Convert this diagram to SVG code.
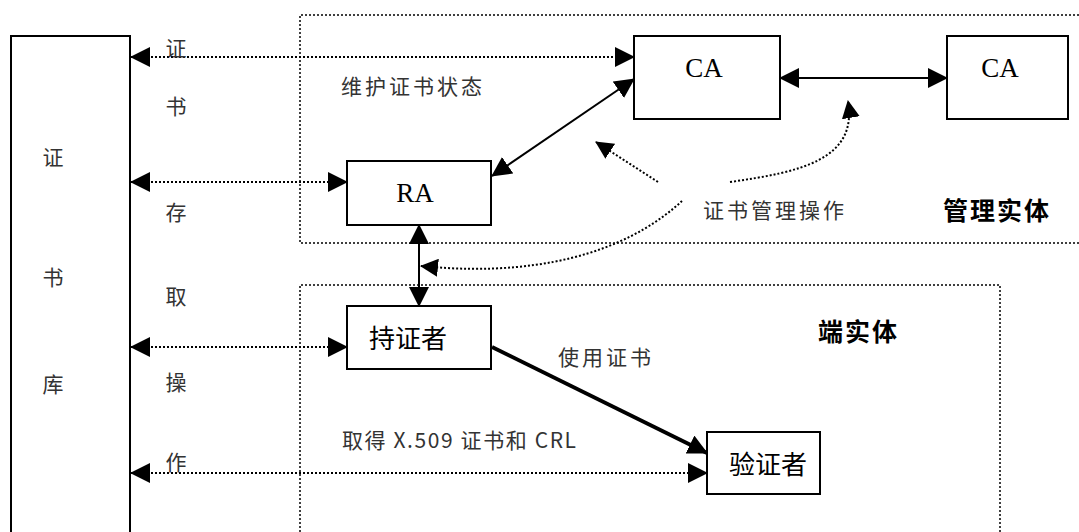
<svg xmlns="http://www.w3.org/2000/svg" width="1079" height="532" viewBox="0 0 1079 532">
<defs>
<marker id="ah" markerUnits="userSpaceOnUse" markerWidth="20" markerHeight="20" refX="19" refY="10" orient="auto-start-reverse" viewBox="0 0 20 20"><path d="M0,0 L20,10 L0,20 z" fill="#000"/></marker>
<marker id="ahs" markerUnits="userSpaceOnUse" markerWidth="18" markerHeight="18" refX="17" refY="9" orient="auto-start-reverse" viewBox="0 0 18 18"><path d="M0,0 L18,9 L0,18 z" fill="#000"/></marker>
<style>
.box{fill:#fff;stroke:#000;stroke-width:2}
.zone{fill:none;stroke:#000;stroke-width:1.5;stroke-dasharray:2 2}
.dot{fill:none;stroke:#000;stroke-width:2;stroke-dasharray:2 2}
.sol{fill:none;stroke:#000;stroke-width:2}
.thick{fill:none;stroke:#000;stroke-width:4}
.cjk{font-family:"Noto Sans CJK SC","Noto Sans",sans-serif;font-size:21px;fill:#333}
.lbl{font-family:"Noto Sans CJK SC",sans-serif;font-size:26px;fill:#000}
.ser{font-family:"Liberation Serif",serif;font-size:27px;fill:#000}
.bold{font-family:"Noto Sans CJK SC",sans-serif;font-size:25px;font-weight:bold;fill:#000}
</style>
</defs>
<rect width="1079" height="532" fill="#fff"/>
<g id="zones">
<path class="zone" d="M1079,15 H300 V243 H1079"/>
<path class="zone" d="M300,532 V285 H1000 V532"/>
</g>
<g id="repo"><rect class="box" x="11" y="36" width="119" height="510"/>
<text class="cjk" x="53" y="165" text-anchor="middle">证</text>
<text class="cjk" x="53" y="285" text-anchor="middle">书</text>
<text class="cjk" x="53" y="392" text-anchor="middle">库</text></g>
<g id="ca1"><rect class="box" x="634" y="36" width="146" height="83"/><text class="ser" x="704" y="77" text-anchor="middle">CA</text></g>
<g id="ca2"><rect class="box" x="947" y="36" width="121" height="83"/><text class="ser" x="1000" y="77" text-anchor="middle">CA</text></g>
<g id="ra"><rect class="box" x="347" y="161" width="144" height="64"/><text class="ser" x="415" y="202" text-anchor="middle">RA</text></g>
<g id="holder"><rect class="box" x="347" y="306" width="144" height="63"/><text class="lbl" x="408" y="348" text-anchor="middle">持证者</text></g>
<g id="verifier"><rect class="box" x="707" y="432" width="113" height="62"/><text class="lbl" x="768" y="474" text-anchor="middle">验证者</text></g>
<g id="connectors">
<line class="dot" x1="131" y1="57" x2="634" y2="57" marker-start="url(#ah)" marker-end="url(#ah)"/>
<line class="dot" x1="131" y1="182" x2="347" y2="182" marker-start="url(#ah)" marker-end="url(#ah)"/>
<line class="dot" x1="131" y1="347" x2="347" y2="347" marker-start="url(#ah)" marker-end="url(#ah)"/>
<line class="dot" x1="131" y1="473" x2="707" y2="473" marker-start="url(#ah)" marker-end="url(#ah)"/>
<line class="sol" x1="780" y1="78" x2="947" y2="78" marker-start="url(#ah)" marker-end="url(#ah)"/>
<line class="sol" x1="634" y1="79" x2="492" y2="176" marker-start="url(#ah)" marker-end="url(#ah)"/>
<line class="sol" x1="419" y1="225" x2="419" y2="306" marker-start="url(#ah)" marker-end="url(#ah)"/>
<line class="thick" x1="492" y1="347" x2="707" y2="453" marker-end="url(#ah)"/>
<path class="dot" d="M658,182 L596,142" marker-end="url(#ahs)"/>
<path class="dot" d="M730,182 C800,172 858,160 848,101" marker-end="url(#ahs)"/>
<path class="dot" d="M682,201 C640,240 560,280 421,266" marker-end="url(#ahs)"/>
</g>
<g id="labels">
<text class="cjk" x="176" y="56" text-anchor="middle">证</text>
<text class="cjk" x="176" y="114" text-anchor="middle">书</text>
<text class="cjk" x="176" y="220" text-anchor="middle">存</text>
<text class="cjk" x="176" y="304" text-anchor="middle">取</text>
<text class="cjk" x="176" y="390" text-anchor="middle">操</text>
<text class="cjk" x="176" y="470" text-anchor="middle">作</text>
<text class="cjk" x="341" y="94" letter-spacing="3">维护证书状态</text>
<text class="cjk" x="703" y="218" letter-spacing="3">证书管理操作</text>
<text class="cjk" x="558" y="365" letter-spacing="3">使用证书</text>
<text class="cjk" x="342" y="448" textLength="234" lengthAdjust="spacing">取得 X.509 证书和 CRL</text>
<text class="bold" x="943" y="220" letter-spacing="2">管理实体</text>
<text class="bold" x="818" y="341" letter-spacing="2">端实体</text>
</g>
</svg>
